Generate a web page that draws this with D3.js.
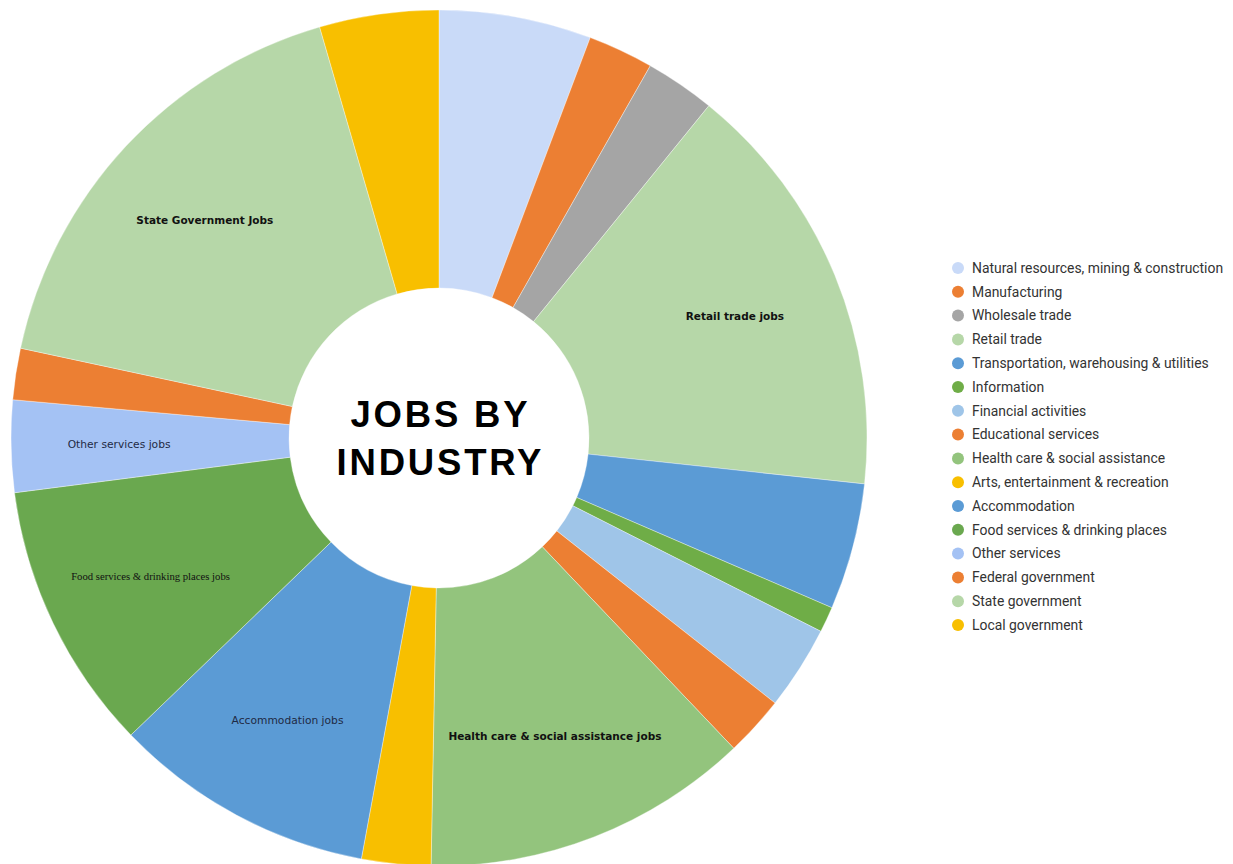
<!DOCTYPE html>
<html>
<head>
<meta charset="utf-8">
<script src="https://cdn.jsdelivr.net/npm/d3@7"></script>
<style>
  body { margin: 0; background: #fff; }
</style>
</head>
<body>
<div id="chart"></div>
<script>
// Data (share of jobs, %)
const industries = [
    "Natural resources, mining & construction",
    "Manufacturing",
    "Wholesale trade",
    "Retail trade",
    "Transportation, warehousing & utilities",
    "Information",
    "Financial activities",
    "Educational services",
    "Health care & social assistance",
    "Arts, entertainment & recreation",
    "Accommodation",
    "Food services & drinking places",
    "Other services",
    "Federal government",
    "State government",
    "Local government"
];
const shares = [5.75, 2.47, 2.64, 15.86, 4.78, 0.97, 3.17, 2.28, 12.39, 2.61, 9.89, 10.17, 3.47, 1.94, 17.14, 4.5];
const colors = ["#c9daf8", "#ec7f33", "#a5a5a5", "#b6d7a8", "#5b9bd5", "#6fad47", "#9fc5e8", "#ec7f33",
                "#93c47d", "#f8bf00", "#5b9bd5", "#6aa84f", "#a4c2f4", "#ec7f33", "#b6d7a8", "#f8bf00"];

// Slice labels drawn inside the donut
const sliceLabels = [
    { name: "State government", text: "State Government Jobs", style: "bold" },
    { name: "Retail trade", text: "Retail trade jobs", style: "bold" },
    { name: "Other services", text: "Other services jobs", style: "plain" },
    { name: "Food services & drinking places", text: "Food services & drinking places jobs", style: "serif" },
    { name: "Accommodation", text: "Accommodation jobs", style: "plain" },
    { name: "Health care & social assistance", text: "Health care & social assistance jobs", style: "bold" }
];

const title = ["JOBS BY", "INDUSTRY"];

const width = 1233, height = 864;
const cx = 439, cy = 438;
const outerR = 428, innerR = 150;

const data = industries.map((d, i) => ({ name: d, value: shares[i], color: colors[i] }));

const svg = d3.select("#chart").append("svg")
    .attr("width", width)
    .attr("height", height);

const g = svg.append("g").attr("transform", `translate(${cx},${cy})`);

const pie = d3.pie().value(d => d.value).sort(null);
const arc = d3.arc().innerRadius(innerR).outerRadius(outerR);
const labelArc = d3.arc().innerRadius(320).outerRadius(320);

const arcs = pie(data);

g.selectAll("path")
    .data(arcs)
    .join("path")
    .attr("d", arc)
    .attr("fill", d => d.data.color)
    .attr("stroke", "#ffffff")
    .attr("stroke-width", 0.6)
    .attr("stroke-opacity", 0.6);

// labels inside slices
const fontFor = {
    bold: { family: "'DejaVu Sans', Verdana, sans-serif", weight: "bold", size: 10.5, fill: "#111" },
    plain: { family: "'DejaVu Sans', Verdana, sans-serif", weight: "normal", size: 10.7, fill: "#1f2a44" },
    serif: { family: "'Liberation Serif', 'Times New Roman', serif", weight: "normal", size: 10.7, fill: "#111" }
};

g.selectAll("text.slice")
    .data(sliceLabels)
    .join("text")
    .attr("class", "slice")
    .attr("transform", d => {
        const a = arcs.find(s => s.data.name === d.name);
        return `translate(${labelArc.centroid(a)})`;
    })
    .attr("text-anchor", "middle")
    .attr("dy", "0.35em")
    .style("font-family", d => fontFor[d.style].family)
    .style("font-weight", d => fontFor[d.style].weight)
    .style("font-size", d => fontFor[d.style].size + "px")
    .attr("fill", d => fontFor[d.style].fill)
    .text(d => d.text);

// centre title
g.selectAll("text.title")
    .data(title)
    .join("text")
    .attr("class", "title")
    .attr("text-anchor", "middle")
    .attr("x", 1.4)
    .attr("y", (d, i) => -11 + i * 48)
    .style("font-family", "'Liberation Sans', Arial, sans-serif")
    .style("font-weight", "bold")
    .style("font-size", "36.5px")
    .style("letter-spacing", "2.8px")
    .attr("fill", "#000")
    .text(d => d);

// legend
const legend = svg.append("g")
    .attr("transform", "translate(958, 268)");

const rowH = 23.8;

legend.selectAll("circle")
    .data(data)
    .join("circle")
    .attr("cx", 0)
    .attr("cy", (d, i) => i * rowH)
    .attr("r", 6)
    .attr("fill", d => d.color);

legend.selectAll("text")
    .data(data)
    .join("text")
    .attr("x", 14)
    .attr("y", (d, i) => i * rowH)
    .attr("dy", "0.35em")
    .style("font-family", "Roboto, Arial, sans-serif")
    .style("font-size", "13.9px")
    .attr("fill", "#333")
    .text(d => d.name);
</script>
</body>
</html>
